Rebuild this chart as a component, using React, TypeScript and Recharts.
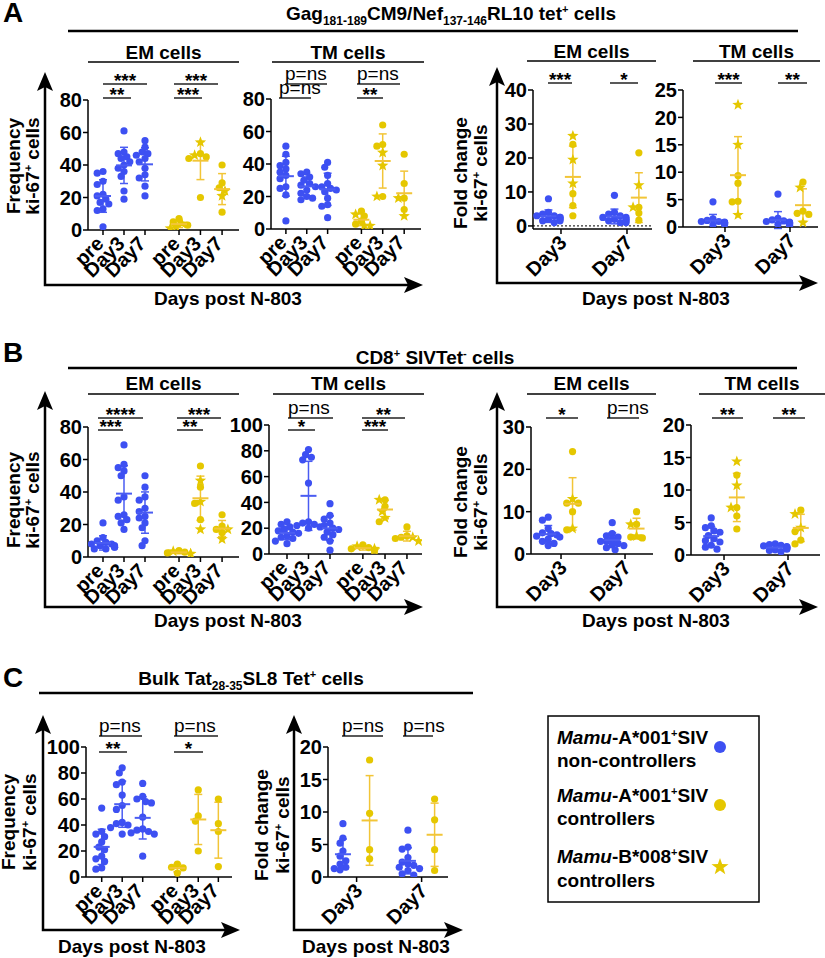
import React from 'react';
import { ScatterChart, Scatter, XAxis, YAxis, ErrorBar, ReferenceLine } from 'recharts';

const FONT = '"Liberation Sans", Arial, Helvetica, sans-serif';
const BLUE = '#3d50f2';
const BLUE_BAR = '#4a5cf2';
const YELLOW = '#e5c700';
const YELLOW_BAR = '#f2c537';

const FREQ_DAYS = ['pre', 'Day3', 'Day7'];
const FOLD_DAYS = ['Day3', 'Day7'];

// ---- A: Gag181-189CM9/Nef137-146RL10 tet+ cells (% ki-67+) ----
// NC = Mamu-A*001 non-controllers, CC = Mamu-A*001 controllers, B8 = Mamu-B*008 controllers
const A_EM_NC = [[36, 35, 30, 28, 22, 21, 19, 17, 16, 13, 12, 2], [61, 48, 47, 45, 44, 42, 40, 38, 36, 33, 24, 19], [55, 51, 48, 47, 46, 44, 42, 38, 34, 32, 27, 21]];
const A_EM_CC = [[7, 5, 3], [47, 45, 44, 20], [40, 29, 26, 11]];
const A_EM_B8 = [[4, 2, 1], [54, 46], [24, 21]];
const A_TM_NC = [[51, 46, 41, 39, 37, 35, 33, 31, 26, 25, 21, 5], [35, 34, 32, 30, 28, 27, 26, 24, 22, 20, 19, 18], [41, 38, 33, 28, 26, 25, 24, 23, 19, 15, 14, 7]];
const A_TM_CC = [[11, 8, 5, 3], [64, 52, 51, 20], [46, 28, 19, 12]];
const A_TM_B8 = [[9, 2, 2], [47, 39, 20], [19, 8]];
// fold change
const A_EMF_NC = [[8, 4, 3.5, 3, 3, 2.5, 2.5, 2, 2, 1.5, 1.5, 1], [9, 4, 3.5, 3, 2.5, 2.5, 2, 2, 1.5, 1.5, 1, 1]];
const A_EMF_CC = [[24, 9.5, 6, 3], [21.5, 5.5, 3.8, 1.7]];
const A_EMF_B8 = [[26.5, 19.5, 12.5], [12, 5.5]];
const A_TMF_NC = [[4.6, 1.5, 1.2, 1, 1, 0.9, 0.8, 0.8, 0.7, 0.6, 0.5, 0.4], [6, 1.6, 1.3, 1.1, 1, 0.9, 0.8, 0.7, 0.6, 0.5, 0.4, 0.3]];
const A_TMF_CC = [[9.4, 8, 4.7, 4.6], [8.2, 2.9, 2.5, 2.3]];
const A_TMF_B8 = [[22.3, 15, 2.2], [7.2, 0.8]];

// ---- B: CD8+ SIVTet- cells ----
const B_EM_NC = [[21, 12, 10, 9, 8, 8, 7, 7, 6, 6, 5, 5], [69, 57, 55, 53, 50, 37, 35, 26, 25, 23, 21, 17], [50, 43, 37, 35, 30, 28, 25, 24, 21, 18, 10, 7]];
const B_EM_CC = [[4, 3, 2.5], [56, 43, 33, 23], [26, 19, 17, 15]];
const B_EM_B8 = [[3.5, 2, 2], [47, 34, 17], [17, 11]];
const B_TM_NC = [[25, 23, 21, 19, 18, 17, 16, 14, 13, 12, 10, 8], [81, 77, 75, 73, 55, 25, 24, 23, 22, 21, 20], [39, 30, 27, 24, 22, 20, 19, 17, 15, 13, 10, 3]];
const B_TM_CC = [[7, 5, 4, 3], [42, 37, 25], [21, 14, 13, 12]];
const B_TM_B8 = [[6, 4, 3], [42, 33, 28], [13, 10]];
const B_EMF_NC = [[8.7, 8, 6, 5, 4.8, 4.5, 4.2, 4, 3.5, 3, 2.5, 2], [7.4, 4.8, 4.3, 4, 3.5, 3, 3, 2.5, 2.2, 2, 1.5, 1]];
const B_EMF_CC = [[24.2, 12, 12, 10, 5.7], [10, 7, 4, 3.8]];
const B_EMF_B8 = [[13, 6], [7, 4.2]];
const B_TMF_NC = [[5.7, 4.5, 4.2, 3.7, 3.5, 3, 2.5, 2.2, 2, 1.5, 1.2, 0.9], [1.7, 1.6, 1.5, 1.4, 1.3, 1.2, 1.1, 1, 0.9, 0.8, 0.7, 0.5]];
const B_TMF_CC = [[12.3, 7.3, 6, 4], [6.9, 3.6, 2.3, 1.7]];
const B_TMF_B8 = [[14.4, 10.7, 7.3], [6.3, 4.2]];

// ---- C: Bulk Tat28-35SL8 Tet+ cells ----
const C_NC = [[53, 35, 33, 31, 27, 23, 21, 16, 14, 12, 7, 6], [84, 80, 73, 71, 63, 55, 52, 42, 41, 40, 38, 33], [72, 62, 60, 58, 57, 46, 37, 36, 35, 34, 33, 16]];
const C_CC = [[10, 7.5, 7, 3], [67, 47, 43, 20], [60, 41, 35, 8]];
const C_F_NC = [[8.2, 6, 5.2, 4, 3.2, 2.5, 2, 1.5, 1.3, 1.1], [7.2, 4.6, 4.3, 3, 2.3, 2, 1.8, 1.5, 1.3, 1, 0.5, 0.3]];
const C_F_CC = [[18, 9.8, 4.2, 2.8], [12, 8.8, 4.2, 1]];

type Group = { x: number; blue: boolean; circ: number[]; star: number[] };
type PanelCfg = {
  id: string;
  left: number; right: number; top: number; bottom: number;
  yDomain: [number, number]; yTicks: number[]; xDomain: [number, number];
  ticks: number[]; labels: string[]; groups: Group[]; labelDx: number; zeroLine?: boolean;
};

function freqGroups(nc: number[][], cc: number[][], b8: number[][] | null, pos: number[]): Group[] {
  const g: Group[] = [];
  nc.forEach((v, i) => g.push({ x: pos[i], blue: true, circ: v, star: [] }));
  cc.forEach((v, i) => g.push({ x: pos[3 + i], blue: false, circ: v, star: b8 ? b8[i] : [] }));
  return g;
}

function foldGroups(nc: number[][], cc: number[][], b8: number[][] | null, off: [number, number]): Group[] {
  const g: Group[] = [];
  nc.forEach((v, i) => g.push({ x: i + off[0], blue: true, circ: v, star: [] }));
  cc.forEach((v, i) => g.push({ x: i + off[1], blue: false, circ: v, star: b8 ? b8[i] : [] }));
  return g;
}

const A_POS = [0, 1, 2, 3.62, 4.64, 5.67];
const B_TM_POS = [0, 1, 2, 3.53, 4.56, 5.58];
const C_POS = [0, 1, 2, 3.69, 4.71, 5.69];
const FREQ_LABELS = [...FREQ_DAYS, ...FREQ_DAYS];

const PANELS: PanelCfg[] = [
  { id: 'aem', left: 88, right: 239, top: 100, bottom: 230, yDomain: [0, 80], yTicks: [0, 20, 40, 60, 80], xDomain: [-0.714, 6.476], ticks: A_POS, labels: FREQ_LABELS, groups: freqGroups(A_EM_NC, A_EM_CC, A_EM_B8, A_POS), labelDx: 2 },
  { id: 'atm', left: 271, right: 421, top: 99, bottom: 229, yDomain: [0, 80], yTicks: [0, 20, 40, 60, 80], xDomain: [-0.714, 6.476], ticks: A_POS, labels: FREQ_LABELS, groups: freqGroups(A_TM_NC, A_TM_CC, A_TM_B8, A_POS), labelDx: 2 },
  { id: 'aemf', left: 533, right: 652, top: 90, bottom: 229, yDomain: [-0.9, 40], yTicks: [0, 10, 20, 30, 40], xDomain: [-0.424, 1.379], ticks: [0, 1], labels: FOLD_DAYS, groups: foldGroups(A_EMF_NC, A_EMF_CC, A_EMF_B8, [-0.19, 0.18]), labelDx: 7, zeroLine: true },
  { id: 'atmf', left: 683, right: 818, top: 90, bottom: 227, yDomain: [0, 25], yTicks: [0, 5, 10, 15, 20, 25], xDomain: [-0.646, 1.431], ticks: [0, 1], labels: FOLD_DAYS, groups: foldGroups(A_TMF_NC, A_TMF_CC, A_TMF_B8, [-0.185, 0.2]), labelDx: 7 },
  { id: 'bem', left: 88, right: 239, top: 427, bottom: 557, yDomain: [0, 80], yTicks: [0, 20, 40, 60, 80], xDomain: [-0.714, 6.476], ticks: A_POS, labels: FREQ_LABELS, groups: freqGroups(B_EM_NC, B_EM_CC, B_EM_B8, A_POS), labelDx: 2 },
  { id: 'btm', left: 269, right: 422, top: 425, bottom: 554, yDomain: [0, 100], yTicks: [0, 20, 40, 60, 80, 100], xDomain: [-0.837, 6.28], ticks: B_TM_POS, labels: FREQ_LABELS, groups: freqGroups(B_TM_NC, B_TM_CC, B_TM_B8, B_TM_POS), labelDx: 2 },
  { id: 'bemf', left: 531, right: 653, top: 427, bottom: 554, yDomain: [0, 30], yTicks: [0, 10, 20, 30], xDomain: [-0.469, 1.437], ticks: [0, 1], labels: FOLD_DAYS, groups: foldGroups(B_EMF_NC, B_EMF_CC, B_EMF_B8, [-0.2, 0.18]), labelDx: 7 },
  { id: 'btmf', left: 691, right: 820, top: 425, bottom: 555, yDomain: [0, 20], yTicks: [0, 5, 10, 15, 20], xDomain: [-0.516, 1.5], ticks: [0, 1], labels: FOLD_DAYS, groups: foldGroups(B_TMF_NC, B_TMF_CC, B_TMF_B8, [-0.2, 0.2]), labelDx: 7 },
  { id: 'cf', left: 86, right: 232, top: 747, bottom: 877, yDomain: [0, 100], yTicks: [0, 20, 40, 60, 80, 100], xDomain: [-0.766, 6.356], ticks: C_POS, labels: FREQ_LABELS, groups: freqGroups(C_NC, C_CC, null, C_POS), labelDx: 2 },
  { id: 'cff', left: 328, right: 448, top: 747, bottom: 877, yDomain: [0, 20], yTicks: [0, 5, 10, 15, 20], xDomain: [-0.44, 1.406], ticks: [0, 1], labels: FOLD_DAYS, groups: foldGroups(C_F_NC, C_F_CC, null, [-0.21, 0.2]), labelDx: 7 },
];

// spread overlapping points sideways (Prism-style scatter)
function swarm(vals: number[], ppu: number): number[] {
  const placed: { dx: number; py: number }[] = [];
  const order = vals.map((_, i) => i).sort((a, b) => vals[b] - vals[a]);
  const out = new Array(vals.length).fill(0);
  const steps = [0, -1, 1, -2, 2, -3, 3, -4, 4];
  for (const i of order) {
    const py = vals[i] * ppu;
    let best = steps[steps.length - 1] * 2.9;
    for (const s of steps) {
      const dx = s * 2.9;
      if (placed.every((p) => Math.hypot(p.dx - dx, p.py - py) >= 5.5)) { best = dx; break; }
    }
    placed.push({ dx: best, py });
    out[i] = best;
  }
  return out;
}

const meanOf = (v: number[]) => v.reduce((a, b) => a + b, 0) / v.length;
const sdOf = (v: number[]) => {
  const m = meanOf(v);
  return Math.sqrt(v.reduce((a, b) => a + (b - m) * (b - m), 0) / (v.length - 1));
};

function starPoints(cx: number, cy: number, R: number, r: number) {
  const pts: string[] = [];
  for (let i = 0; i < 10; i++) {
    const a = -Math.PI / 2 + (i * Math.PI) / 5;
    const rad = i % 2 === 0 ? R : r;
    pts.push(`${cx + rad * Math.cos(a)},${cy + rad * Math.sin(a)}`);
  }
  return pts.join(' ');
}

const dotShape = (color: string) => (p: any) => (
  <circle cx={p.cx + (p.payload?.j ?? 0)} cy={p.cy} r={3.6} fill={color} />
);
const starShape = (p: any) => (
  <polygon points={starPoints(p.cx + (p.payload?.j ?? 0), p.cy, 6, 2.5)} fill={YELLOW} />
);
const meanShape = (color: string) => (p: any) => (
  <line x1={p.cx - 8} x2={p.cx + 8} y1={p.cy} y2={p.cy} stroke={color} strokeWidth={2} />
);

const ML = 46, MT = 14, MR = 4, MB = 70;

function Panel(cfg: PanelCfg) {
  const { left, right, top, bottom, yDomain, yTicks, xDomain, ticks, labels, groups, labelDx } = cfg;
  const w = right - left;
  const h = bottom - top;
  const ppu = h / (yDomain[1] - yDomain[0]);
  const blueDots: any[] = [], yellowDots: any[] = [], stars: any[] = [], blueSum: any[] = [], yellowSum: any[] = [];
  groups.forEach((g) => {
    const all = [...g.circ.map((v) => ({ v, s: false })), ...g.star.map((v) => ({ v, s: true }))];
    const offs = swarm(all.map((a) => a.v), ppu);
    all.forEach((a, i) => {
      const pt = { x: g.x, y: a.v, j: offs[i] };
      if (g.blue) blueDots.push(pt);
      else if (a.s) stars.push(pt);
      else yellowDots.push(pt);
    });
    const vals = all.map((a) => a.v);
    (g.blue ? blueSum : yellowSum).push({ x: g.x, y: meanOf(vals), sd: sdOf(vals) });
  });

  const XTick = (props: any) => {
    const { x, y, payload } = props;
    const i = ticks.findIndex((t) => Math.abs(t - payload.value) < 1e-6);
    const ax = x + labelDx;
    const ay = y + 10;
    return (
      <text x={ax} y={ay} transform={`rotate(-45 ${ax} ${ay})`} textAnchor="end" fontSize={20} fontWeight={700} fontFamily={FONT} fill="#000">
        {labels[i]}
      </text>
    );
  };

  return (
    <div style={{ position: 'absolute', left: left - ML, top: top - MT }}>
      <ScatterChart width={ML + w + MR} height={MT + h + MB} margin={{ top: MT, right: MR, bottom: 0, left: 0 }}>
        <XAxis
          type="number" dataKey="x" domain={xDomain} ticks={ticks} allowDataOverflow interval={0}
          height={MB} tick={XTick} tickSize={5} tickMargin={0}
          axisLine={{ stroke: '#000', strokeWidth: 1.5 }} tickLine={{ stroke: '#000', strokeWidth: 1.5 }}
        />
        <YAxis
          type="number" dataKey="y" domain={yDomain} ticks={yTicks} allowDataOverflow interval={0}
          width={ML} tickSize={5} tickMargin={1}
          tick={{ fontSize: 20, fontWeight: 700, fill: '#000', fontFamily: FONT }}
          axisLine={{ stroke: '#000', strokeWidth: 1.5 }} tickLine={{ stroke: '#000', strokeWidth: 1.5 }}
        />
        {cfg.zeroLine && <ReferenceLine y={0} stroke="#333" strokeDasharray="2 2" strokeWidth={1.2} />}
        <Scatter data={blueDots} shape={dotShape(BLUE)} isAnimationActive={false} />
        <Scatter data={yellowDots} shape={dotShape(YELLOW)} isAnimationActive={false} />
        <Scatter data={stars} shape={starShape} isAnimationActive={false} />
        <Scatter data={blueSum} shape={meanShape(BLUE_BAR)} isAnimationActive={false}>
          <ErrorBar dataKey="sd" direction="y" width={4} stroke={BLUE_BAR} strokeWidth={1.5} />
        </Scatter>
        <Scatter data={yellowSum} shape={meanShape(YELLOW_BAR)} isAnimationActive={false}>
          <ErrorBar dataKey="sd" direction="y" width={4} stroke={YELLOW_BAR} strokeWidth={1.5} />
        </Scatter>
      </ScatterChart>
    </div>
  );
}

type Sig = [number, number, number, string];
const SIGS: Sig[] = [
  [103, 147, 84, '***'], [103, 131, 98, '**'], [174, 218, 84, '***'], [174, 202, 98, '***'],
  [285, 327, 84, 'p=ns'], [279, 311, 98, 'p=ns'], [357, 400, 84, 'p=ns'], [357, 383, 98, '**'],
  [548, 572, 83, '***'], [610, 638, 83, '*'], [715, 742, 83, '***'], [778, 807, 83, '**'],
  [98, 143, 418, '****'], [98, 123, 430, '***'], [177, 221, 418, '***'], [177, 203, 430, '**'],
  [288, 333, 418, 'p=ns'], [288, 315, 430, '*'], [362, 405, 418, '**'], [362, 388, 430, '***'],
  [546, 578, 418, '*'], [607, 639, 418, 'p=ns'], [712, 743, 418, '**'], [773, 805, 418, '**'],
  [99, 142, 736, 'p=ns'], [99, 127, 752, '**'], [174, 218, 736, 'p=ns'], [174, 203, 752, '*'],
  [342, 383, 736, 'p=ns'], [403, 433, 736, 'p=ns'],
];

// frames: x of vertical arrow, its tip y, corner y, horizontal tip x
const FRAMES = [
  [45, 72, 285, 423], [497, 67, 283, 818],
  [45, 391, 607, 423], [497, 392, 607, 818],
  [43, 715, 930, 240], [294, 715, 930, 463],
];

const SUBTITLES: [number, number, number, number, string][] = [
  [88, 239, 62, 59, 'EM cells'], [272, 424, 62, 59, 'TM cells'], [527, 656, 61, 58, 'EM cells'], [693, 820, 61, 58, 'TM cells'],
  [88, 239, 394, 390, 'EM cells'], [273, 424, 394, 390, 'TM cells'], [527, 656, 394, 390, 'EM cells'], [699, 825, 394, 390, 'TM cells'],
];

const DAYS_LABELS: [number, number][] = [[228, 305], [656, 305], [228, 627], [656, 627], [132, 953], [376, 953]];

// [baseline x line 1, baseline x line 2, center y, first line text]
const YTITLES: [number, number, number, string][] = [
  [20, 39, 166, 'Frequency'], [467, 487, 173, 'Fold change'],
  [20, 39, 500, 'Frequency'], [467, 487, 502, 'Fold change'],
  [15, 36, 822, 'Frequency'], [268, 289, 825, 'Fold change'],
];

function Overlay() {
  const T = { fontFamily: FONT, fill: '#000' } as const;
  return (
    <svg width={825} height={958} style={{ position: 'absolute', left: 0, top: 0, pointerEvents: 'none' }}>
      <text x={3} y={22} fontSize={28} fontWeight={700} {...T}>A</text>
      <text x={3} y={362} fontSize={28} fontWeight={700} {...T}>B</text>
      <text x={3} y={687} fontSize={28} fontWeight={700} {...T}>C</text>

      <text x={451} y={20} textAnchor="middle" fontSize={19} fontWeight={700} {...T}>
        Gag<tspan fontSize={12} dy={5}>181-189</tspan>
        <tspan dy={-5}>CM9/Nef</tspan>
        <tspan fontSize={12} dy={5}>137-146</tspan>
        <tspan dy={-5}>RL10 tet</tspan>
        <tspan fontSize={11} dy={-7}>+</tspan>
        <tspan dy={7}> cells</tspan>
      </text>
      <line x1={68} x2={798} y1={31} y2={31} stroke="#000" strokeWidth={2.5} />

      <text x={435} y={364} textAnchor="middle" fontSize={19} fontWeight={700} {...T}>
        CD8<tspan fontSize={11} dy={-7}>+</tspan>
        <tspan dy={7}> SIVTet</tspan>
        <tspan fontSize={11} dy={-7}>-</tspan>
        <tspan dy={7}> cells</tspan>
      </text>
      <line x1={68} x2={797} y1={368} y2={368} stroke="#000" strokeWidth={2.5} />

      <text x={251} y={685} textAnchor="middle" fontSize={19} fontWeight={700} {...T}>
        Bulk Tat<tspan fontSize={12} dy={5}>28-35</tspan>
        <tspan dy={-5}>SL8 Tet</tspan>
        <tspan fontSize={11} dy={-7}>+</tspan>
        <tspan dy={7}> cells</tspan>
      </text>
      <line x1={39} x2={473} y1={693} y2={693} stroke="#000" strokeWidth={2.5} />

      {SUBTITLES.map(([x1, x2, ly, ty, t], i) => (
        <g key={'st' + i}>
          <text x={(x1 + x2) / 2} y={ty} textAnchor="middle" fontSize={19} fontWeight={700} {...T}>{t}</text>
          <line x1={x1} x2={x2} y1={ly} y2={ly} stroke="#000" strokeWidth={1.5} />
        </g>
      ))}

      {SIGS.map(([x1, x2, y, t], i) => (
        <g key={'sg' + i}>
          <line x1={x1} x2={x2} y1={y} y2={y} stroke="#222" strokeWidth={1.5} />
          {t === 'p=ns' ? (
            <text x={x1} y={y - 4} fontSize={19} {...T}>p=ns</text>
          ) : (
            <text x={(x1 + x2) / 2} y={y + 3} textAnchor="middle" fontSize={19} fontWeight={700} {...T}>{t}</text>
          )}
        </g>
      ))}

      {FRAMES.map(([x, tip, y, tipX], i) => (
        <g key={'fr' + i}>
          <polyline points={`${x},${tip + 12} ${x},${y} ${tipX - 12},${y}`} fill="none" stroke="#000" strokeWidth={2.5} />
          <polygon points={`${x},${tip} ${x + 8},${tip + 19} ${x},${tip + 15} ${x - 8},${tip + 19}`} fill="#000" />
          <polygon points={`${tipX},${y} ${tipX - 19},${y - 8} ${tipX - 15},${y} ${tipX - 19},${y + 8}`} fill="#000" />
        </g>
      ))}

      {DAYS_LABELS.map(([x, y], i) => (
        <text key={'dl' + i} x={x} y={y} textAnchor="middle" fontSize={19} fontWeight={700} {...T}>Days post N-803</text>
      ))}

      {YTITLES.map(([b1, b2, cy, t], i) => (
        <g key={'yt' + i}>
          <text transform={`translate(${b1},${cy}) rotate(-90)`} textAnchor="middle" fontSize={19} fontWeight={700} {...T}>{t}</text>
          <text transform={`translate(${b2},${cy}) rotate(-90)`} textAnchor="middle" fontSize={19} fontWeight={700} {...T}>
            ki-67<tspan fontSize={11} dy={-7}>+</tspan>
            <tspan dy={7}> cells</tspan>
          </text>
        </g>
      ))}

      <rect x={548} y={716} width={211} height={186} fill="none" stroke="#000" strokeWidth={1.5} />
      {[
        [744, 767, 'A*001', 'non-controllers'],
        [802, 825, 'A*001', 'controllers'],
        [863, 887, 'B*008', 'controllers'],
      ].map(([y1, y2, allele, kind], i) => (
        <g key={'lg' + i}>
          <text x={557} y={y1 as number} fontSize={19} fontWeight={700} {...T}>
            <tspan fontStyle="italic">Mamu</tspan>-{allele}
            <tspan fontSize={11} dy={-7}>+</tspan>
            <tspan dy={7}>SIV</tspan>
          </text>
          <text x={557} y={y2 as number} fontSize={19} fontWeight={700} {...T}>{kind}</text>
        </g>
      ))}
      <circle cx={720} cy={747} r={6} fill={BLUE} />
      <circle cx={720} cy={805} r={6} fill={YELLOW} />
      <polygon points={starPoints(720, 867, 9, 3.6)} fill={YELLOW} />
    </svg>
  );
}

export default function App() {
  return (
    <div style={{ position: 'absolute', left: 0, top: 0, width: 825, height: 958, background: '#fff', fontFamily: FONT, overflow: 'hidden' }}>
      {PANELS.map((p) => (
        <Panel key={p.id} {...p} />
      ))}
      <Overlay />
    </div>
  );
}
